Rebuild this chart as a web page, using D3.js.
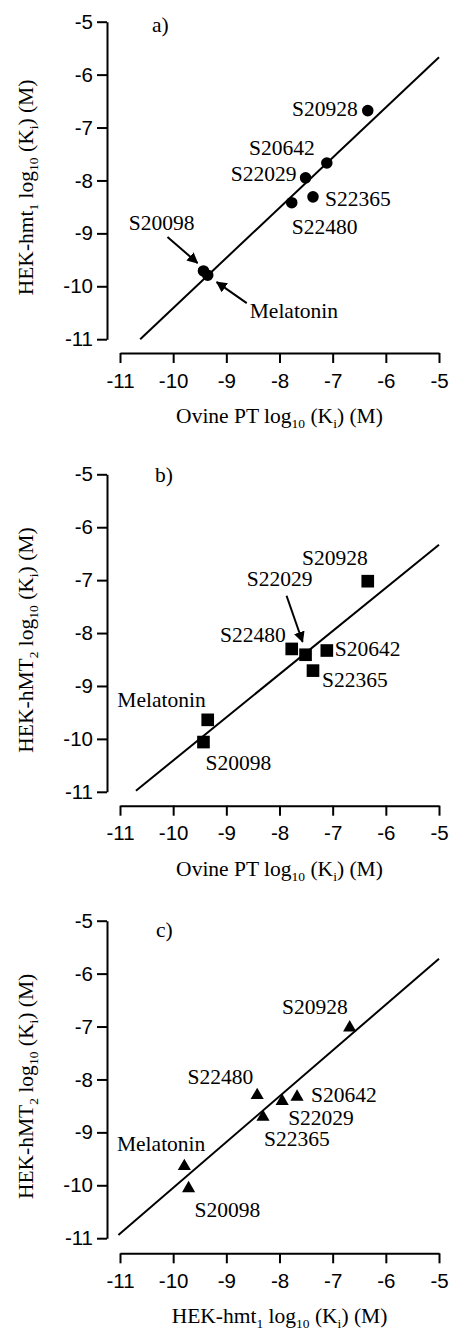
<!DOCTYPE html>
<html>
<head>
<meta charset="utf-8">
<script src="https://cdn.jsdelivr.net/npm/d3@7"></script>
<style>
  body { margin: 0; background: #fff; }
  svg { display: block; }
  .tick text { font-family: "Liberation Sans", Arial, sans-serif; font-size: 20.5px; fill: #000; }
  .axis path, .axis line { stroke: #000; stroke-width: 2; }
  .lbl { font-family: "Liberation Serif", "Times New Roman", serif; font-size: 21.5px; fill: #000; }
</style>
</head>
<body>
<svg width="449" height="1332"></svg>
<script>
// compounds and their log10(Ki) values
const compounds = ['S20928', 'S20642', 'S22029', 'S22365', 'S22480', 'S20098', 'Melatonin'];
const ovinePT = [-6.34, -7.11, -7.51, -7.37, -7.77, -9.43, -9.35];
const hmt1    = [-6.68, -7.67, -7.95, -8.31, -8.42, -9.71, -9.79];
const hMT2    = [-7.02, -8.33, -8.41, -8.71, -8.30, -10.06, -9.64];

const xTicks = [-11, -10, -9, -8, -7, -6, -5];
const yTicks = [-5, -6, -7, -8, -9, -10, -11];

// regression line end points [x, y]
const fitA = [[-10.62, -11.0], [-5.0, -5.67]];
const fitB = [[-10.70, -10.98], [-5.0, -6.33]];
const fitC = [[-11.03, -10.94], [-5.0, -5.72]];

const svg = d3.select('svg');

const xScale = d3.scaleLinear().domain([-11, -5]).range([120, 439]);
const axisX0 = 107;
const innerH = 317.5;

const ovineTitle = [['Ovine PT log'], ['10', 'sub'], [' (K'], ['i', 'sub'], [') (M)']];
const hmt1Title = [['HEK-hmt'], ['1', 'sub'], [' log'], ['10', 'sub'], [' (K'], ['i', 'sub'], [') (M)']];
const hMT2Title = [['HEK-hMT'], ['2', 'sub'], [' log'], ['10', 'sub'], [' (K'], ['i', 'sub'], [') (M)']];

const panels = [
    {
        letter: 'a)', letterPos: [152, 31.7], top: 21.7, xAxisY: 353,
        xVals: ovinePT, yVals: hmt1, fit: fitA, symbol: d3.symbolCircle, size: 105,
        xTitle: ovineTitle, yTitle: hmt1Title,
        labels: {
            S20928: [-10, 5, 'end'], S20642: [-12, -8, 'end'], S22029: [-9, 3, 'end'],
            S22365: [12, 9, 'start'], S22480: [0, 31, 'start'], S20098: [-9, -41, 'end'],
            Melatonin: [42, 43, 'start']
        },
        arrows: {S20098: [[-36, -34], [-6, -8]], Melatonin: [[39, 28], [9, 7]]}
    },
    {
        letter: 'b)', letterPos: [155, 481.7], top: 474.3, xAxisY: 805.7,
        xVals: ovinePT, yVals: hMT2, fit: fitB, symbol: d3.symbolSquare, size: 160,
        xTitle: ovineTitle, yTitle: hMT2Title,
        labels: {
            S20928: [0, -16, 'end'], S20642: [8, 5, 'start'], S22029: [7, -69, 'end'],
            S22365: [9, 16, 'start'], S22480: [-6, -7, 'end'], S20098: [2, 28, 'start'],
            Melatonin: [-2, -13, 'end']
        },
        arrows: {S22029: [[-19, -59], [-3, -13]]}
    },
    {
        letter: 'c)', letterPos: [156, 936.7], top: 920.7, xAxisY: 1253.3,
        xVals: hmt1, yVals: hMT2, fit: fitC, symbol: d3.symbolTriangle, size: 75,
        xTitle: hmt1Title, yTitle: hMT2Title,
        labels: {
            S20928: [-2, -14, 'end'], S20642: [14, 5, 'start'], S22029: [6, 24, 'start'],
            S22365: [1, 29, 'start'], S22480: [-4, -11, 'end'], S20098: [6, 29, 'start'],
            Melatonin: [21, -15, 'end']
        },
        arrows: {}
    }
];

svg.append('defs').append('marker')
    .attr('id', 'head')
    .attr('viewBox', '0 0 10 10')
    .attr('refX', 9).attr('refY', 5)
    .attr('markerWidth', 5.5).attr('markerHeight', 5.5)
    .attr('markerUnits', 'strokeWidth')
    .attr('orient', 'auto')
  .append('path')
    .attr('d', 'M0,0 L10,5 L0,10 Z')
    .attr('fill', '#000');

const writeParts = (textSel, parts) => {
    parts.forEach(([t, kind], i) => {
        const ts = textSel.append('tspan').text(t);
        if (kind === 'sub') {
            ts.attr('font-size', '13.5px').attr('dy', 5);
        } else if (i > 0 && parts[i - 1][1] === 'sub') {
            // back to the baseline after a subscript
            ts.attr('dy', -5);
        }
    });
};

panels.forEach(p => {
    const yScale = d3.scaleLinear().domain([-11, -5]).range([p.top + innerH, p.top]);
    const g = svg.append('g');

    g.append('g')
        .attr('class', 'axis')
        .attr('transform', `translate(${axisX0},0)`)
        .call(d3.axisLeft(yScale).tickValues(yTicks).tickSize(10).tickSizeOuter(0)
            .tickPadding(4).tickFormat(d => String(d)));

    g.append('g')
        .attr('class', 'axis')
        .attr('transform', `translate(0,${p.xAxisY})`)
        .call(d3.axisBottom(xScale).tickValues(xTicks).tickSize(10).tickSizeOuter(0)
            .tickPadding(10).tickFormat(d => String(d)));

    // axis titles
    const xt = g.append('text')
        .attr('class', 'lbl')
        .attr('x', (xScale(-11) + xScale(-5)) / 2)
        .attr('y', p.xAxisY + 70)
        .attr('text-anchor', 'middle');
    writeParts(xt, p.xTitle);

    const yMid = (yScale(-11) + yScale(-5)) / 2 + 7;
    const yt = g.append('text')
        .attr('class', 'lbl')
        .attr('transform', `translate(33,${yMid}) rotate(-90)`)
        .attr('text-anchor', 'middle');
    writeParts(yt, p.yTitle);

    // panel letter
    g.append('text')
        .attr('class', 'lbl')
        .attr('x', p.letterPos[0])
        .attr('y', p.letterPos[1])
        .text(p.letter);

    // fit line
    g.append('path')
        .attr('d', d3.line().x(d => xScale(d[0])).y(d => yScale(d[1]))(p.fit))
        .attr('fill', 'none')
        .attr('stroke', '#000')
        .attr('stroke-width', 2);

    const pts = compounds.map((c, i) => ({name: c, x: p.xVals[i], y: p.yVals[i]}));

    g.selectAll('path.pt').data(pts)
        .enter().append('path')
            .attr('class', 'pt')
            .attr('transform', d => `translate(${xScale(d.x)},${yScale(d.y)})`)
            .attr('d', d3.symbol().type(p.symbol).size(p.size))
            .attr('fill', '#000');

    g.selectAll('text.name').data(pts)
        .enter().append('text')
            .attr('class', 'lbl name')
            .attr('x', d => xScale(d.x) + p.labels[d.name][0])
            .attr('y', d => yScale(d.y) + p.labels[d.name][1])
            .attr('text-anchor', d => p.labels[d.name][2])
            .text(d => d.name);

    Object.entries(p.arrows).forEach(([name, [from, to]]) => {
        const d = pts.find(q => q.name === name);
        const cx = xScale(d.x), cy = yScale(d.y);
        g.append('line')
            .attr('x1', cx + from[0]).attr('y1', cy + from[1])
            .attr('x2', cx + to[0]).attr('y2', cy + to[1])
            .attr('stroke', '#000')
            .attr('stroke-width', 2)
            .attr('marker-end', 'url(#head)');
    });
});
</script>
</body>
</html>
